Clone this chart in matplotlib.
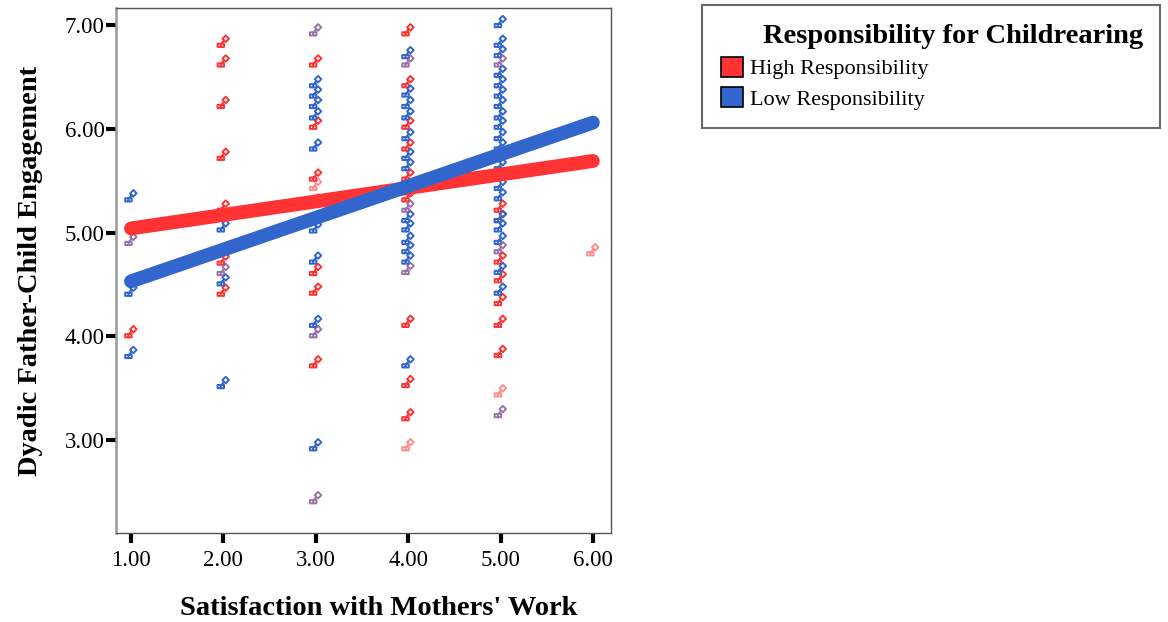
import numpy as np
import matplotlib.pyplot as plt
from matplotlib.path import Path
from matplotlib.patches import Patch

# values (x = satisfaction, y = engagement)
high_x = [1,
          2, 2, 2, 2, 2, 2, 2, 2,
          3, 3, 3, 3, 3, 3, 3,
          4, 4, 4, 4, 4, 4, 4, 4, 4,
          5, 5, 5, 5, 5, 5, 5]
high_y = [4.04,
          6.84, 6.65, 6.25, 5.75, 5.25, 4.84, 4.74, 4.44,
          6.65, 6.05, 5.55, 5.31, 4.64, 4.45, 3.75,
          6.95, 6.45, 6.05, 5.84, 5.55, 5.35, 4.14, 3.56, 3.24,
          5.25, 4.75, 4.57, 4.35, 4.14, 3.85, 5.15]

low_x = [1, 1, 1,
         2, 2, 2,
         3, 3, 3, 3, 3, 3, 3, 3, 3,
         4, 4, 4, 4, 4, 4, 4, 4, 4, 4, 4, 4, 4, 4,
         5, 5, 5, 5, 5, 5, 5, 5, 5, 5, 5, 5, 5, 5, 5, 5, 5, 5, 5]
low_y = [5.35, 4.44, 3.84,
         5.06, 4.54, 3.55,
         6.45, 6.35, 6.25, 6.14, 5.84, 5.05, 4.75, 4.14, 2.95,
         6.73, 6.36, 6.25, 6.14, 5.94, 5.75, 5.65, 5.44, 5.15, 5.06, 4.94, 4.85, 4.75, 3.75,
         7.03, 6.84, 6.74, 6.55, 6.45, 6.35, 6.25, 6.14, 6.05, 5.94, 5.84, 5.65, 5.46, 5.36,
         5.15, 5.06, 4.94, 4.65, 4.45]

# cases where a high and a low case sit on the same spot
both_x = [1, 2, 3, 3, 3, 4, 4, 4, 5, 5, 5]
both_y = [4.93, 4.64, 6.95, 4.04, 2.44, 6.65, 5.25, 4.65, 6.65, 4.85, 3.27]

# lone, lighter high-responsibility cases
faint_x = [3, 4, 5, 6]
faint_y = [5.46, 2.95, 3.47, 4.83]

# fit lines (value at x=1 and x=6)
fit_x = [1, 6]
high_fit = [5.04, 5.69]
low_fit = [4.53, 6.06]

RED = "#ff3333"
BLUE = "#3366cc"
PURPLE = "#8a5a9c"

plt.rcParams["font.family"] = ["Liberation Serif", "DejaVu Serif"]

# small flag-like glyph similar to the SPSS marker
verts = [(0.35, 0.95), (0.85, 0.45), (0.35, -0.05), (-0.15, 0.45), (0.35, 0.95),
         (0.1, 0.2), (-0.3, -0.3),
         (-0.9, -0.3), (0.1, -0.3), (0.1, -0.8), (-0.9, -0.8), (-0.9, -0.3),
         (-0.4, -0.3), (-0.4, -0.8)]
codes = [Path.MOVETO] + [Path.LINETO] * 3 + [Path.CLOSEPOLY] + \
        [Path.MOVETO, Path.LINETO] + \
        [Path.MOVETO] + [Path.LINETO] * 3 + [Path.CLOSEPOLY] + \
        [Path.MOVETO, Path.LINETO]
glyph = Path(verts, codes)

fig = plt.figure(figsize=(11.68, 6.22), dpi=100)
ax = fig.add_axes([0.0993, 0.1431, 0.4238, 0.8439])

mk = dict(marker=glyph, s=80, facecolors="none", linewidths=1.4)
ax.scatter(high_x, high_y, edgecolors=RED, **mk, zorder=3)
ax.scatter(low_x, low_y, edgecolors=BLUE, **mk, zorder=3)
ax.scatter(both_x, both_y, edgecolors=PURPLE, alpha=0.85, **mk, zorder=3)
ax.scatter(faint_x, faint_y, edgecolors=RED, alpha=0.55, **mk, zorder=3)

ax.plot(fit_x, high_fit, color=RED, lw=10, solid_capstyle="round", zorder=4)
ax.plot(fit_x, low_fit, color=BLUE, lw=10, solid_capstyle="round", zorder=5)

ax.set_xlim(0.837, 6.196)
ax.set_ylim(2.104, 7.164)
ax.set_xticks([1, 2, 3, 4, 5, 6])
ax.set_yticks([3, 4, 5, 6, 7])
ax.xaxis.set_major_formatter(plt.FormatStrFormatter("%.2f"))
ax.yaxis.set_major_formatter(plt.FormatStrFormatter("%.2f"))
ax.tick_params(direction="out", length=7, width=3, labelsize=16.5, color="black")
ax.tick_params(axis="y", pad=1)
ax.tick_params(axis="x", pad=5)

for name, sp in ax.spines.items():
    sp.set_color("#555555")
    sp.set_linewidth(1.0)
ax.spines["left"].set_color("#999999")
ax.spines["left"].set_linewidth(1.8)

ax.set_xlabel("Satisfaction with Mothers' Work", fontsize=20.5, fontweight="bold")
ax.set_ylabel("Dyadic Father-Child Engagement", fontsize=20.5, fontweight="bold", labelpad=16)
ax.xaxis.set_label_coords(0.53, -0.12)

handles = [Patch(facecolor=RED, edgecolor="black", lw=1.2),
           Patch(facecolor=BLUE, edgecolor="black", lw=1.2)]
leg = fig.legend(handles, ["High Responsibility", "Low Responsibility"],
                 loc="upper left", bbox_to_anchor=(0.601, 0.807, 0.392, 0.185),
                 mode="expand", title="Responsibility for Childrearing",
                 title_fontproperties={"weight": "bold", "size": 20.5},
                 fontsize=16, frameon=True, fancybox=False, edgecolor="#444444",
                 borderpad=0.85, handlelength=1.0, handleheight=1.0, handletextpad=0.3,
                 labelspacing=0.35, borderaxespad=0)
leg.get_frame().set_linewidth(1.5)
leg._legend_box.align = "left"
leg.get_title().set_position((42, 0))

fig.savefig("out.png", dpi=100)
